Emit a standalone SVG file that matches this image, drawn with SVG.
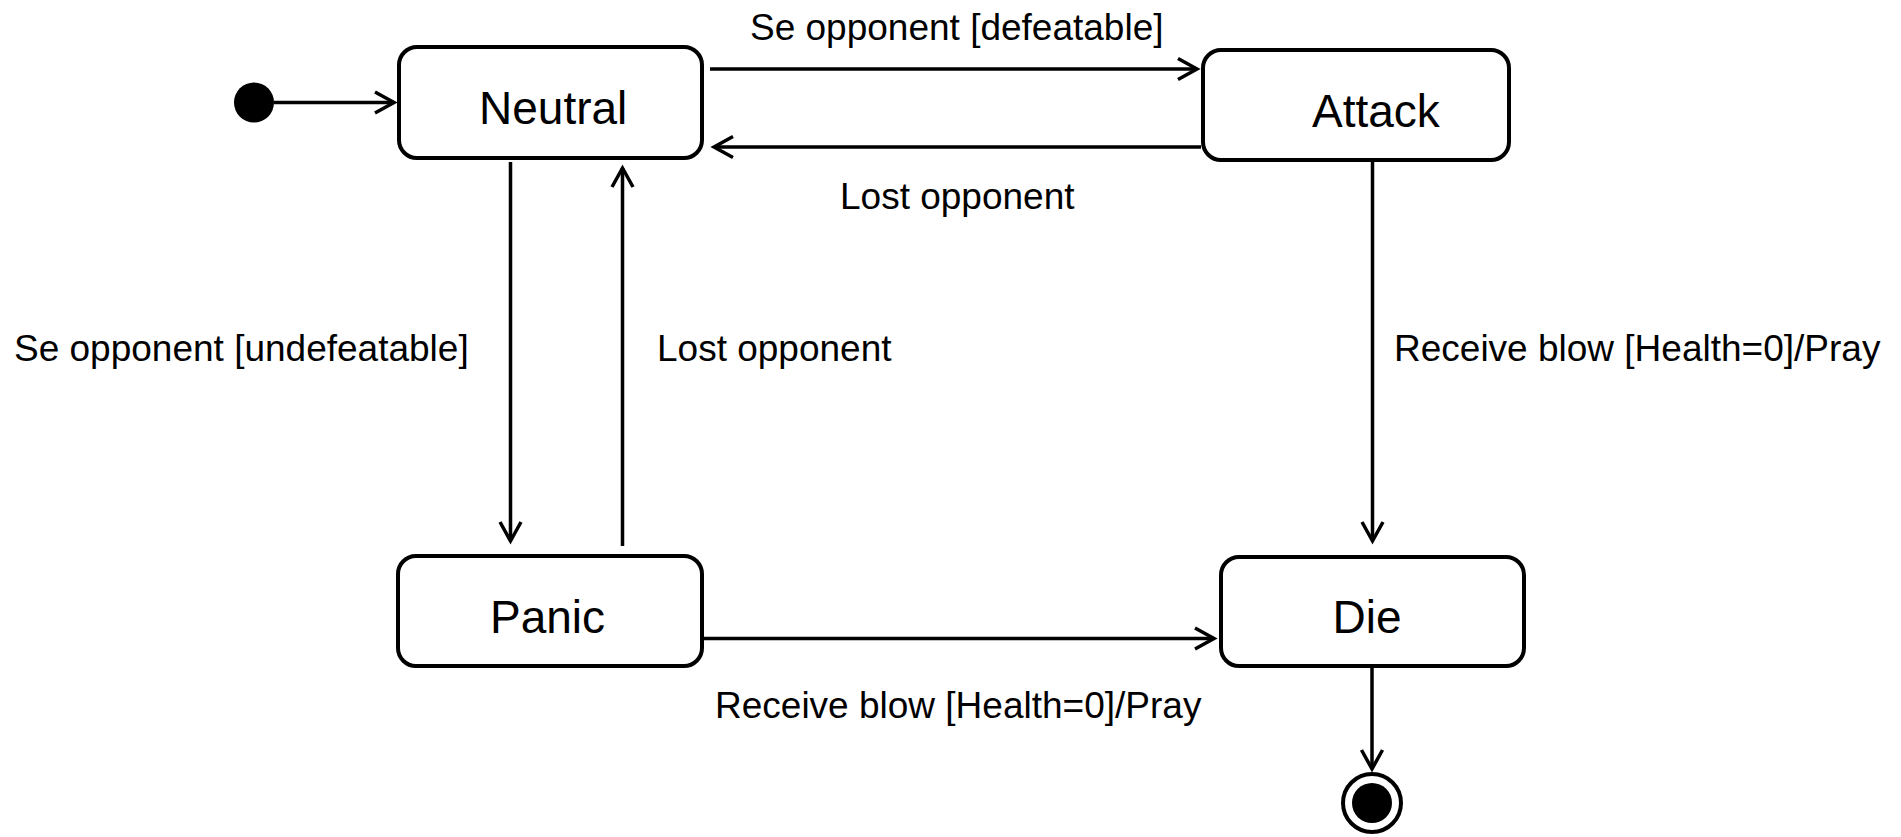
<svg xmlns="http://www.w3.org/2000/svg" width="1901" height="837" viewBox="0 0 1901 837">
  <style>
    .state { fill: #ffffff; stroke: #000000; stroke-width: 4; }
    .state-name { font-family: "Liberation Sans", Arial, sans-serif; font-size: 46px; fill: #000000; }
    .edge { fill: none; stroke: #000000; stroke-width: 3.5; marker-end: url(#open-arrow); }
    .edge-label { font-family: "Liberation Sans", Arial, sans-serif; font-size: 37px; fill: #000000; }
  </style>
  <defs>
    <marker id="open-arrow" viewBox="-24 -14 28 28" markerWidth="28" markerHeight="28" refX="0" refY="0" orient="auto" markerUnits="userSpaceOnUse">
      <path d="M-19,-10.5 L0,0 L-19,10.5" fill="none" stroke="#000000" stroke-width="3.5" stroke-linejoin="miter"/>
    </marker>
  </defs>
  <rect width="1901" height="837" fill="#ffffff"/>

  <!-- transitions -->
  <g id="connectors">
    <line class="edge" x1="274" y1="102.5" x2="394" y2="102.5"/>
    <line class="edge" x1="710" y1="69" x2="1197" y2="69"/>
    <line class="edge" x1="1201" y1="147" x2="714" y2="147"/>
    <line class="edge" x1="510.5" y1="162" x2="510.5" y2="541"/>
    <line class="edge" x1="622.5" y1="546" x2="622.5" y2="168"/>
    <line class="edge" x1="1372.5" y1="162" x2="1372.5" y2="541"/>
    <line class="edge" x1="694" y1="638.5" x2="1214" y2="638.5"/>
    <line class="edge" x1="1372" y1="667" x2="1372" y2="769"/>
  </g>

  <!-- transition labels -->
  <g id="labels">
    <text class="edge-label" x="750" y="40">Se opponent [defeatable]</text>
    <text class="edge-label" x="840" y="209">Lost opponent</text>
    <text class="edge-label" x="14" y="361">Se opponent [undefeatable]</text>
    <text class="edge-label" x="657" y="361">Lost opponent</text>
    <text class="edge-label" x="1394" y="361">Receive blow [Health=0]/Pray</text>
    <text class="edge-label" x="715" y="718">Receive blow [Health=0]/Pray</text>
  </g>

  <!-- initial pseudostate -->
  <g id="initial">
    <circle cx="254" cy="102.5" r="20" fill="#000000"/>
  </g>

  <g id="neutral">
    <rect class="state" x="399" y="47" width="303" height="111" rx="18" ry="18"/>
    <text class="state-name" x="479" y="124">Neutral</text>
  </g>

  <g id="attack">
    <rect class="state" x="1203" y="50" width="306" height="110" rx="18" ry="18"/>
    <text class="state-name" x="1312" y="127">Attack</text>
  </g>

  <g id="panic">
    <rect class="state" x="398" y="556" width="304" height="110" rx="18" ry="18"/>
    <text class="state-name" x="490" y="633">Panic</text>
  </g>

  <g id="die">
    <rect class="state" x="1221" y="557" width="303" height="109" rx="18" ry="18"/>
    <text class="state-name" x="1332.5" y="633">Die</text>
  </g>

  <!-- final state -->
  <g id="final">
    <circle cx="1372" cy="803" r="29" fill="#ffffff" stroke="#000000" stroke-width="4"/>
    <circle cx="1372" cy="803" r="20" fill="#000000"/>
  </g>
</svg>
